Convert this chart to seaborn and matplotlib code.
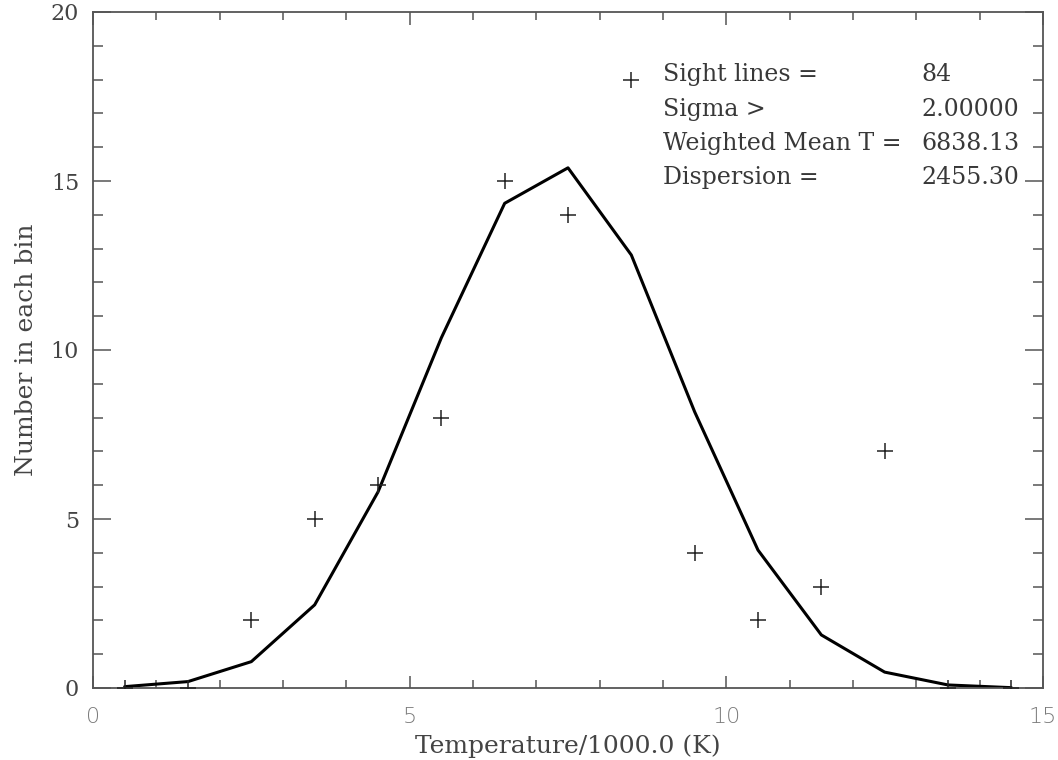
import numpy as np
import pandas as pd
import matplotlib
matplotlib.use("Agg")
import matplotlib.pyplot as plt
import seaborn as sns
from matplotlib.ticker import MultipleLocator

# Bin centres (temperature / 1000 K)
bin_centres = [0.5, 1.5, 2.5, 3.5, 4.5, 5.5, 6.5, 7.5, 8.5, 9.5, 10.5, 11.5, 12.5, 13.5, 14.5]
# Observed counts per bin
counts = [0, 0, 2, 5, 6, 8, 15, 14, 18, 4, 2, 3, 7, 0, 0]
# Fitted model curve per bin
model = [0.04, 0.19, 0.78, 2.46, 5.80, 10.36, 14.34, 15.39, 12.81, 8.17, 4.08, 1.57, 0.47, 0.09, 0.01]

stat_labels = ["Sight lines =", "Sigma >", "Weighted Mean T =", "Dispersion ="]
stat_values = ["84", "2.00000", "6838.13", "2455.30"]

sns.set_style("white")
plt.rcParams["font.family"] = ["DejaVu Serif"]

df = pd.DataFrame({"T": bin_centres, "N": counts, "fit": model})

fig = plt.figure(figsize=(10.58, 7.60), dpi=100)
ax = fig.add_axes([93 / 1058, 72 / 760, 950 / 1058, 676 / 760])

sns.lineplot(data=df, x="T", y="fit", ax=ax, color="black", linewidth=2.2,
             sort=False, estimator=None)
sns.scatterplot(data=df, x="T", y="N", ax=ax, marker="+", s=130, color="#222222",
                linewidth=1.1, zorder=3)

ax.set_xlim(0, 15)
ax.set_ylim(0, 20)

axis_col = "#555555"
for sp in ax.spines.values():
    sp.set_visible(True)
    sp.set_color(axis_col)
    sp.set_linewidth(1.3)

ax.xaxis.set_major_locator(MultipleLocator(5))
ax.xaxis.set_minor_locator(MultipleLocator(1))
ax.yaxis.set_major_locator(MultipleLocator(5))
ax.yaxis.set_minor_locator(MultipleLocator(1))

ax.tick_params(axis="x", which="major", direction="in", length=9, width=1.1,
               color=axis_col, top=True, bottom=True, pad=14, labelsize=16,
               labelcolor="#7a7a7a")
ax.tick_params(axis="x", which="minor", direction="in", length=5.5, width=1.1,
               color=axis_col, top=True, bottom=True)
ax.tick_params(axis="y", which="major", direction="in", length=13, width=1.1,
               color=axis_col, left=True, right=True, pad=10, labelsize=16,
               labelcolor="#444444")
ax.tick_params(axis="y", which="minor", direction="in", length=7.5, width=1.1,
               color=axis_col, left=True, right=True)

for lbl in ax.get_xticklabels():
    lbl.set_fontfamily("DejaVu Sans")
    lbl.set_fontweight("light")

ax.set_xlabel("Temperature/1000.0 (K)", fontsize=18, color="#444444", labelpad=5)
ax.set_ylabel("Number in each bin", fontsize=18, color="#444444", labelpad=9)

# Summary statistics block
row_y = [18.14, 17.13, 16.12, 15.11]
for lab, val, yy in zip(stat_labels, stat_values, row_y):
    ax.text(9.0, yy, lab, fontsize=17, color="#383838", va="center", ha="left")
    ax.text(13.08, yy, val, fontsize=17, color="#383838", va="center", ha="left")

fig.savefig("out.png", dpi=100, facecolor="white")
